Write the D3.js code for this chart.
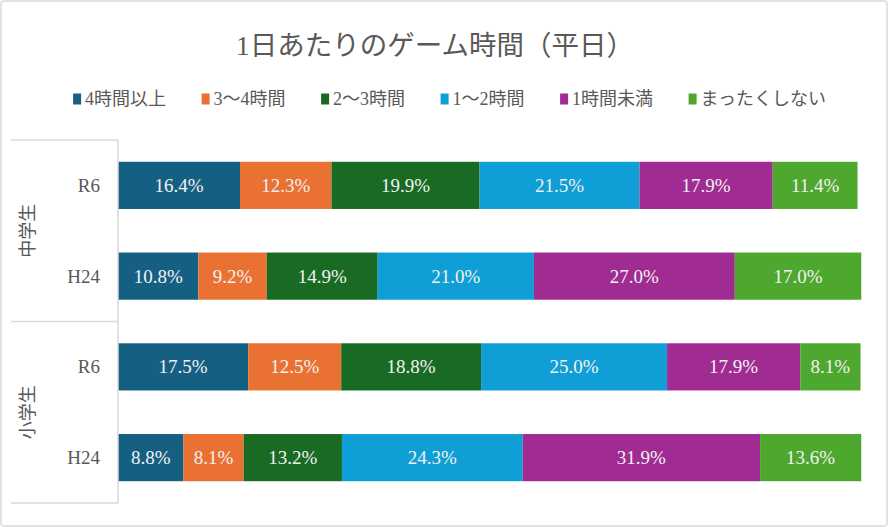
<!DOCTYPE html>
<html><head><meta charset="utf-8">
<script src="https://cdn.jsdelivr.net/npm/d3@7"></script>
<style>
html,body{margin:0;padding:0;background:#fff;}
svg{display:block;font-family:"Liberation Serif","DejaVu Serif","Noto Sans CJK JP",serif;}
</style></head>
<body>
<script>
const title = "1日あたりのゲーム時間（平日）";
const seriesNames = ["4時間以上","3～4時間","2～3時間","1～2時間","1時間未満","まったくしない"];
const colors = ["#156082","#E97132","#196B24","#0F9ED5","#A02B93","#4EA72E"];
const groups = ["中学生","小学生"];
const years = ["R6","H24"];
const jhsR6  = [16.4,12.3,19.9,21.5,17.9,11.4];
const jhsH24 = [10.8,9.2,14.9,21.0,27.0,17.0];
const esR6   = [17.5,12.5,18.8,25.0,17.9,8.1];
const esH24  = [8.8,8.1,13.2,24.3,31.9,13.6];

const rows = [
  {group:"中学生", year:"R6", vals:jhsR6},
  {group:"中学生", year:"H24", vals:jhsH24},
  {group:"小学生", year:"R6", vals:esR6},
  {group:"小学生", year:"H24", vals:esH24}
];

(function(){
const W=888,H=527;
const svg=d3.select("body").append("svg").attr("width",W).attr("height",H);
svg.append("rect").attr("x",1).attr("y",1).attr("width",W-2).attr("height",H-2)
  .attr("rx",3).attr("fill","#fff").attr("stroke","#d9d9d9").attr("stroke-width",1.5);

svg.append("text").attr("x",435).attr("y",55).attr("text-anchor","middle")
  .attr("font-size",27.5).attr("fill","#595959").text(title);

// legend
const lg=svg.append("g");
const items=lg.selectAll("g").data(seriesNames).join("g");
items.append("rect").attr("width",8).attr("height",11).attr("y",93.5).attr("fill",(d,i)=>colors[i]);
items.append("text").attr("x",12).attr("y",104.5).attr("font-size",18).attr("fill","#595959").text(d=>d);
let xpos=0; const gap=35.5;
items.each(function(){
  const g=d3.select(this);
  const w=12+g.select("text").node().getComputedTextLength();
  g.attr("transform",`translate(${xpos},0)`);
  xpos+=w+gap;
});
const totalW=xpos-gap;
lg.attr("transform",`translate(${449.5-totalW/2},0)`);

const pL=118,pR=862,pT=140,pB=503;
const x=d3.scaleLinear().domain([0,100]).range([pL,pR]);
const y=d3.scaleBand().domain(rows.map((r,i)=>i)).range([pT,pB]).paddingInner(0.48).paddingOuter(0.24);

const stack=[];
rows.forEach((r,ri)=>{let acc=0;r.vals.forEach((v,si)=>{stack.push({ri,si,x0:acc,x1:acc+v,v});acc+=v;});});

svg.append("g").selectAll("rect").data(stack).join("rect")
  .attr("x",d=>x(d.x0)).attr("width",d=>x(d.x1)-x(d.x0))
  .attr("y",d=>y(d.ri)).attr("height",y.bandwidth())
  .attr("fill",d=>colors[d.si]);
svg.append("g").selectAll("text").data(stack).join("text")
  .attr("x",d=>(x(d.x0)+x(d.x1))/2).attr("y",d=>y(d.ri)+y.bandwidth()/2+6.5)
  .attr("text-anchor","middle").attr("font-size",19).attr("fill","#f2f2f2")
  .text(d=>d.v.toFixed(1)+"%");

// axis frame
const ax=svg.append("g").attr("stroke","#d9d9d9").attr("stroke-width",1.5).attr("fill","none");
ax.append("line").attr("x1",pL).attr("x2",pL).attr("y1",pT).attr("y2",pB);
const mid=(pT+pB)/2;
[pT,mid,pB].forEach(yy=>ax.append("line").attr("x1",11).attr("x2",pL).attr("y1",yy).attr("y2",yy));

// year labels
svg.append("g").selectAll("text").data(rows).join("text")
  .attr("x",100).attr("y",(d,i)=>y(i)+y.bandwidth()/2+6.5).attr("text-anchor","end")
  .attr("font-size",19).attr("fill","#595959").text(d=>d.year);
// group labels
svg.append("g").selectAll("text").data(groups).join("text")
  .attr("transform",(d,i)=>`translate(34,${pT+(mid-pT)*(i+0.5)}) rotate(-90)`)
  .attr("text-anchor","middle").attr("font-size",18).attr("fill","#595959").text(d=>d);
})();
</script>
</body></html>
